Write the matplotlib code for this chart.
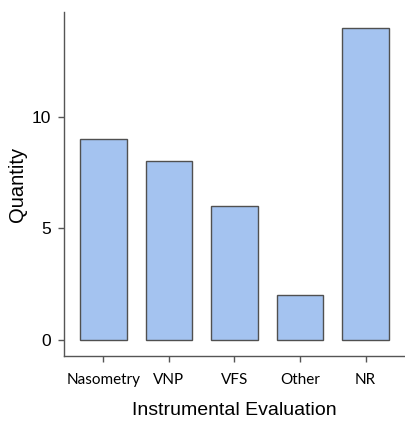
import matplotlib.pyplot as plt

# datos
categorias = ['Nasometry', 'VNP', 'VFS', 'Other', 'NR']
cantidades = [9, 8, 6, 2, 14]
ticks_y = [0, 5, 10]

fig = plt.figure(figsize=(4.05, 4.22), dpi=100)
ax = fig.add_axes([0.158, 0.1564, 0.842, 0.8152])

posiciones = list(range(len(categorias)))
ax.bar(posiciones, cantidades, width=0.71, color='#a4c3f0',
       edgecolor='#505050', linewidth=1.0)

ax.set_xlim(-0.6, 4.6)
ax.set_ylim(-0.72, 14.7)
ax.set_yticks(ticks_y)
ax.set_yticklabels([str(t) for t in ticks_y], fontsize=12.5, family='Liberation Sans')
ax.set_xticks(posiciones)
ax.set_xticklabels(categorias, fontsize=11, family='Lato')

for lado in ['top', 'right']:
    ax.spines[lado].set_visible(False)
for lado in ['left', 'bottom']:
    ax.spines[lado].set_color('#555555')
    ax.spines[lado].set_linewidth(1.0)
ax.tick_params(axis='both', color='#555555', length=4, width=1.0)
ax.tick_params(axis='y', pad=5)
ax.tick_params(axis='x', pad=8)

ax.set_ylabel('Quantity', fontsize=14.5, family='Liberation Sans', labelpad=4)
ax.set_xlabel('Instrumental Evaluation', fontsize=14, family='Liberation Sans', labelpad=11)

fig.savefig('out.png', dpi=100)
